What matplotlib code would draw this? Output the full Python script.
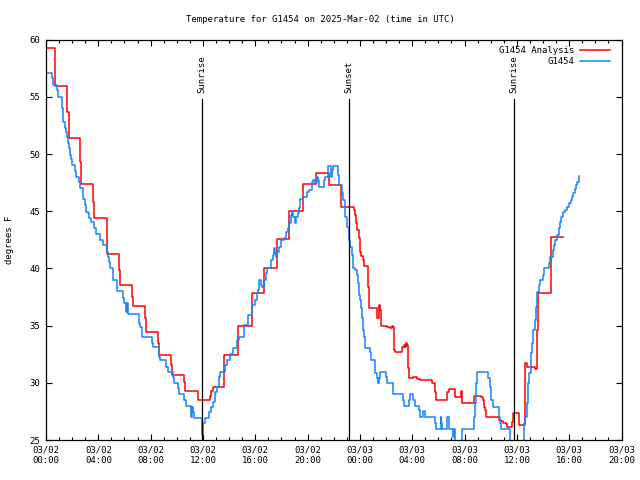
import matplotlib
matplotlib.use("Agg")
import matplotlib.pyplot as plt
import numpy as np

# hours since 03/02 00:00 UTC, temperature in degrees F
analysis_pts = [
    (0.05, 59.25), (0.65, 57.64), (0.71, 55.93), (1.63, 53.71), (1.74, 51.38),
    (2.62, 49.33), (2.70, 47.36), (3.62, 45.84), (3.69, 44.39), (4.64, 41.24),
    (5.60, 39.87), (5.68, 38.55), (6.60, 37.53), (6.67, 36.69), (7.59, 35.64),
    (7.67, 34.44), (8.59, 33.46), (8.66, 32.41), (9.58, 31.56), (9.66, 30.66),
    (10.58, 30.10), (10.65, 29.26), (11.60, 28.47), (12.56, 28.87), (12.64, 29.31),
    (12.74, 29.64), (13.63, 32.41), (14.66, 34.97), (15.73, 37.83), (16.69, 40.07),
    (17.66, 42.55), (18.60, 45.02), (19.63, 47.38), (20.67, 48.32), (21.64, 47.30),
    (22.58, 45.35), (23.55, 45.11), (23.62, 44.67), (23.70, 43.95), (23.80, 43.36),
    (23.90, 42.64), (24.00, 41.47), (24.11, 41.12), (24.21, 40.74), (24.31, 40.21),
    (24.62, 38.40), (24.67, 36.52), (25.28, 36.08), (25.33, 35.64), (25.43, 35.93),
    (25.48, 36.80), (25.54, 36.37), (25.59, 35.78), (25.64, 34.97), (26.05, 34.91),
    (26.30, 34.77), (26.45, 34.97), (26.55, 34.91), (26.60, 32.87), (26.66, 32.72),
    (27.22, 33.16), (27.37, 33.31), (27.47, 33.16), (27.52, 33.51), (27.58, 33.31),
    (27.68, 31.27), (27.73, 30.40), (28.08, 30.54), (28.29, 30.48), (28.39, 30.33),
    (28.60, 30.22), (29.51, 30.01), (29.72, 29.22), (29.82, 28.50), (30.63, 29.22),
    (30.79, 29.49), (31.19, 29.43), (31.29, 28.79), (31.70, 29.31), (31.78, 28.21),
    (32.70, 28.82), (33.25, 28.79), (33.38, 28.50), (33.49, 27.91), (33.59, 27.62),
    (33.67, 26.99), (34.65, 26.75), (34.76, 26.69), (34.91, 26.46), (35.15, 26.40),
    (35.27, 26.11), (35.63, 26.60), (35.68, 27.33), (36.18, 26.31), (36.60, 29.08),
    (36.64, 31.71), (36.75, 31.41), (37.41, 31.18), (37.51, 31.41), (37.56, 34.62),
    (37.61, 37.83), (38.59, 40.30), (38.63, 42.72), (39.55, 42.72),
]

obs_pts = [
    (0.05, 57.06), (0.48, 56.63), (0.56, 56.04), (0.87, 55.60), (0.94, 55.02),
    (1.20, 54.00), (1.27, 53.57), (1.32, 52.83), (1.43, 52.25), (1.50, 51.96),
    (1.58, 51.52), (1.68, 50.94), (1.73, 50.51), (1.83, 49.92), (1.91, 49.54),
    (1.99, 49.04), (2.24, 48.55), (2.29, 48.02), (2.55, 47.58), (2.60, 47.01),
    (2.85, 46.05), (2.96, 45.55), (3.06, 44.96), (3.21, 44.82), (3.31, 44.38),
    (3.42, 44.09), (3.69, 43.51), (3.82, 43.01), (4.10, 42.49), (4.38, 42.05),
    (4.64, 41.47), (4.76, 41.03), (4.82, 40.54), (4.89, 40.01), (5.10, 38.99),
    (5.41, 38.49), (5.45, 38.03), (5.86, 37.39), (5.94, 36.95), (6.12, 36.22),
    (6.22, 36.95), (6.27, 36.02), (7.08, 35.20), (7.19, 34.91), (7.34, 34.03),
    (8.10, 33.46), (8.20, 33.11), (8.62, 32.29), (8.72, 32.00), (9.17, 31.41),
    (9.30, 30.97), (9.69, 30.54), (9.79, 29.96), (10.07, 29.52), (10.15, 29.02),
    (10.55, 28.50), (10.70, 27.97), (11.06, 27.04), (11.14, 27.39), (11.19, 27.91),
    (11.26, 27.48), (11.32, 26.95), (11.93, 25.40), (12.03, 26.51), (12.13, 26.95),
    (12.46, 27.48), (12.59, 27.91), (12.74, 28.35), (12.94, 29.22), (13.07, 29.61),
    (13.25, 30.54), (13.30, 30.97), (13.71, 31.56), (13.81, 32.00), (14.07, 32.52),
    (14.27, 33.02), (14.63, 33.74), (14.73, 34.03), (15.14, 35.06), (15.44, 35.93),
    (15.75, 36.80), (15.98, 37.24), (16.11, 37.83), (16.21, 38.12), (16.31, 38.99),
    (16.41, 38.55), (16.51, 38.41), (16.67, 38.99), (16.82, 39.58), (16.92, 40.01),
    (17.23, 40.74), (17.33, 41.18), (17.43, 41.76), (17.53, 41.32), (17.58, 41.03),
    (17.68, 41.47), (17.79, 41.90), (17.94, 42.49), (18.20, 42.64), (18.35, 43.21),
    (18.50, 43.51), (18.60, 44.00), (18.71, 44.67), (18.81, 45.05), (18.91, 44.53),
    (19.02, 44.00), (19.11, 44.47), (19.27, 44.82), (19.37, 45.26), (19.42, 46.05),
    (19.67, 46.27), (19.93, 46.71), (20.13, 46.86), (20.34, 47.59), (20.44, 47.73),
    (20.59, 47.44), (20.70, 48.02), (20.80, 47.73), (20.90, 47.10), (21.25, 47.73),
    (21.35, 48.02), (21.56, 48.96), (21.77, 48.02), (21.87, 48.61), (21.97, 48.96),
    (22.32, 48.17), (22.37, 47.30), (22.63, 46.57), (22.73, 45.99), (22.84, 45.11),
    (22.88, 44.53), (22.99, 44.24), (23.04, 43.65), (23.14, 42.49), (23.24, 41.90),
    (23.37, 41.18), (23.49, 40.01), (23.65, 39.86), (23.75, 39.43), (23.85, 38.70),
    (23.95, 37.68), (24.00, 37.24), (24.11, 36.52), (24.17, 35.64), (24.21, 34.62),
    (24.31, 34.03), (24.36, 33.46), (24.41, 33.02), (24.77, 32.72), (24.82, 32.00),
    (25.13, 31.41), (25.18, 30.83), (25.28, 30.40), (25.38, 29.96), (25.43, 30.40),
    (25.54, 30.97), (25.99, 30.54), (26.05, 30.01), (26.50, 29.43), (26.55, 29.02),
    (27.32, 28.50), (27.37, 27.97), (27.78, 28.50), (27.83, 29.02), (28.08, 28.50),
    (28.24, 27.97), (28.49, 27.62), (28.59, 27.04), (28.84, 27.54), (28.95, 27.04),
    (29.77, 26.46), (29.82, 25.94), (30.17, 27.04), (30.22, 26.46), (30.28, 25.94),
    (30.63, 26.46), (30.68, 26.99), (30.79, 26.46), (30.83, 25.94), (31.09, 25.29),
    (31.19, 25.94), (31.29, 24.50), (31.80, 25.94), (32.72, 27.04), (32.77, 28.21),
    (32.87, 29.96), (32.97, 30.97), (33.79, 30.40), (33.94, 29.66), (34.04, 28.50),
    (34.15, 27.91), (34.61, 27.04), (34.71, 26.46), (34.76, 25.94), (35.47, 24.50),
    (36.54, 26.46), (36.64, 27.04), (36.75, 28.21), (36.85, 29.96), (36.95, 30.83),
    (37.06, 32.58), (37.16, 33.46), (37.26, 34.62), (37.37, 35.49), (37.46, 36.66),
    (37.56, 37.97), (37.67, 38.55), (37.77, 38.99), (37.97, 39.43), (38.07, 40.01),
    (38.43, 40.45), (38.53, 41.03), (38.74, 41.61), (38.84, 42.05), (38.94, 42.49),
    (39.04, 42.92), (39.20, 43.51), (39.30, 44.09), (39.40, 44.53), (39.55, 44.96),
    (39.70, 45.11), (39.81, 45.40), (39.96, 45.70), (40.11, 45.99), (40.21, 46.27),
    (40.31, 46.57), (40.42, 46.92), (40.52, 47.30), (40.62, 47.59), (40.73, 47.88),
    (40.78, 48.08),
]

sun_times = [11.90, 23.19, 35.78]
sun_labels = ["Sunrise", "Sunset", "Sunrise"]
sun_line_top = 54.8

x_ticks = [0, 4, 8, 12, 16, 20, 24, 28, 32, 36, 40, 44]
x_labels = ["03/02\n00:00", "03/02\n04:00", "03/02\n08:00", "03/02\n12:00",
            "03/02\n16:00", "03/02\n20:00", "03/03\n00:00", "03/03\n04:00",
            "03/03\n08:00", "03/03\n12:00", "03/03\n16:00", "03/03\n20:00"]
y_ticks = [25, 30, 35, 40, 45, 50, 55, 60]

plt.rcParams['font.family'] = ['DejaVu Sans Mono']
plt.rcParams['font.size'] = 6.5

fig = plt.figure(figsize=(6.4, 4.8), dpi=100)
ax = fig.add_axes([46 / 640, 1 - 440 / 480, 575.5 / 640, 400.3 / 480])

a = np.array(analysis_pts)
o = np.array(obs_pts)
ax.plot(a[:, 0], a[:, 1], drawstyle='steps-post', color='#ff0000', lw=1.1,
        label='G1454 Analysis')
ax.plot(o[:, 0], o[:, 1], drawstyle='steps-post', color='#1582ff', lw=1.1,
        label='G1454')

for t, lab in zip(sun_times, sun_labels):
    ax.plot([t, t], [25, sun_line_top], color='black', lw=0.9)
    ax.text(t, sun_line_top + 0.5, lab, rotation=90, ha='center', va='bottom')

ax.set_xlim(0, 44)
ax.set_ylim(25, 60)
ax.set_xticks(x_ticks)
ax.set_xticklabels(x_labels)
ax.set_xticks(np.arange(0, 45, 1), minor=True)
ax.set_yticks(y_ticks)
ax.tick_params(direction='in', top=True, right=True, length=4, width=0.8, pad=4)
ax.tick_params(which='minor', direction='in', top=True, length=2.2, width=0.8)
for s in ax.spines.values():
    s.set_linewidth(0.9)

ax.legend(loc='upper right', bbox_to_anchor=(1 - 4 / 575.5, 1 + 1 / 400.3),
          frameon=False, markerfirst=False, handlelength=3.3,
          handletextpad=0.7, labelspacing=0.25, borderaxespad=0.4)

fig.text(0.5, 1 - 20 / 480, "Temperature for G1454 on 2025-Mar-02 (time in UTC)",
         ha='center', va='center')
fig.text(10 / 640, 0.5, "degrees F", rotation=90, ha='center', va='center')

fig.savefig("out.png", dpi=100)
